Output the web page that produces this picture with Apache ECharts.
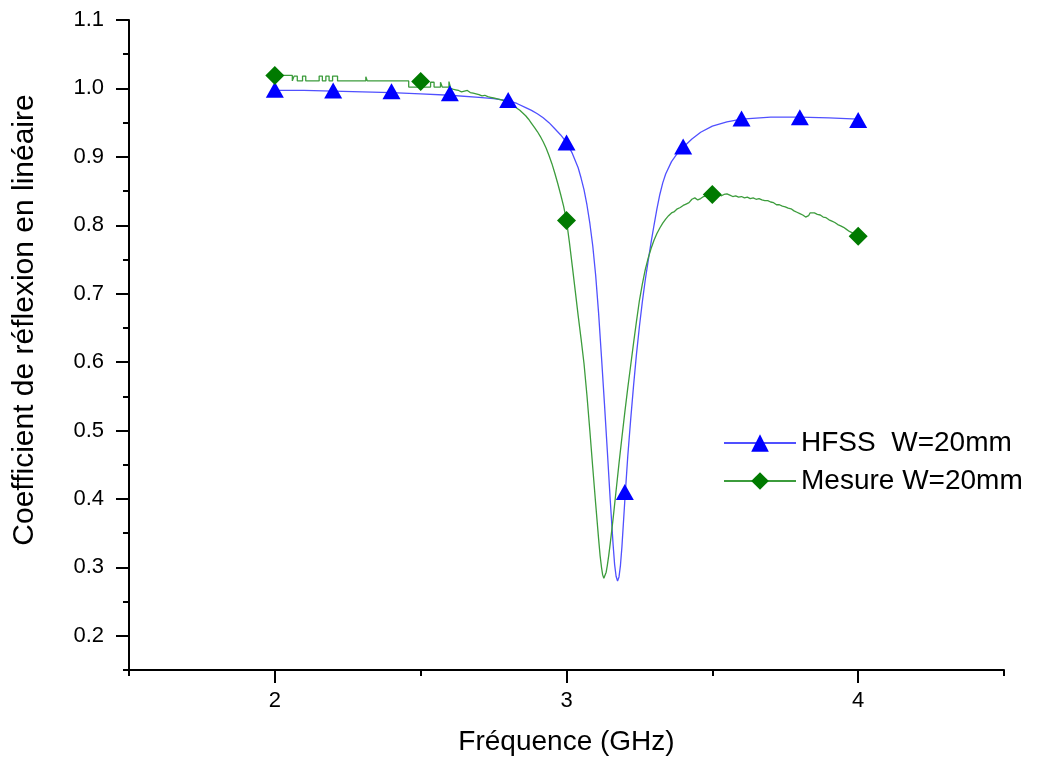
<!DOCTYPE html>
<html>
<head>
<meta charset="utf-8">
<script src="https://cdn.jsdelivr.net/npm/echarts@6/dist/echarts.min.js"></script>
<style>
html,body{margin:0;padding:0;background:#fff;}
#chart{width:1043px;height:763px;}
</style>
</head>
<body>
<div id="chart"></div>
<script>
// ---- data ----
var xTicks = [1.5, 2, 2.5, 3, 3.5, 4, 4.5];
var xMajorTicks = [2, 3, 4];
var yTicks = [0.15, 0.2, 0.25, 0.3, 0.35, 0.4, 0.45, 0.5, 0.55, 0.6, 0.65, 0.7, 0.75, 0.8, 0.85, 0.9, 0.95, 1.0, 1.05, 1.1];
var yMajorTicks = [0.2, 0.3, 0.4, 0.5, 0.6, 0.7, 0.8, 0.9, 1.0, 1.1];

var seriesNames = ['HFSS  W=20mm', 'Mesure W=20mm'];

var hfssCurve = [
  [2.00,0.997],[2.10,0.997],[2.20,0.996],[2.30,0.995],[2.40,0.994],[2.50,0.992],
  [2.60,0.990],[2.70,0.987],[2.75,0.985],[2.80,0.982],[2.83,0.978],[2.86,0.972],
  [2.88,0.968],[2.90,0.963],[2.92,0.957],[2.94,0.950],[2.96,0.941],[2.98,0.932],
  [3.00,0.921],[3.02,0.905],[3.04,0.884],[3.05,0.869],[3.06,0.852],[3.07,0.830],
  [3.08,0.803],[3.09,0.770],[3.10,0.727],[3.11,0.672],[3.12,0.607],[3.13,0.540],
  [3.14,0.470],[3.15,0.398],[3.16,0.332],[3.165,0.304],[3.170,0.287],[3.175,0.280],
  [3.180,0.286],[3.185,0.303],[3.19,0.330],[3.20,0.398],[3.21,0.462],[3.22,0.516],
  [3.23,0.566],[3.24,0.612],[3.25,0.652],[3.26,0.688],[3.27,0.720],[3.28,0.748],
  [3.29,0.775],[3.30,0.800],[3.31,0.824],[3.32,0.845],[3.33,0.862],[3.34,0.875],
  [3.36,0.893],[3.38,0.905],[3.40,0.914],[3.43,0.926],[3.46,0.936],[3.50,0.945],
  [3.55,0.951],[3.60,0.955],[3.70,0.958],[3.80,0.958],[3.90,0.957],[4.00,0.955]
];
var hfssMarkers = [
  [2.0,0.998],[2.2,0.997],[2.4,0.996],[2.6,0.993],[2.8,0.983],[3.0,0.921],
  [3.2,0.410],[3.4,0.915],[3.6,0.956],[3.8,0.958],[4.0,0.954]
];

var mesureCurve = [
  [2.000,1.019],[2.060,1.019],[2.060,1.011],[2.066,1.011],[2.066,1.018],[2.077,1.018],
  [2.077,1.011],[2.095,1.011],[2.095,1.018],[2.106,1.018],[2.106,1.011],[2.152,1.011],
  [2.152,1.018],[2.163,1.018],[2.163,1.011],[2.175,1.011],[2.175,1.018],[2.186,1.018],
  [2.186,1.011],[2.198,1.011],[2.198,1.018],[2.215,1.018],[2.215,1.011],[2.312,1.011],
  [2.312,1.017],[2.317,1.017],[2.317,1.011],[2.459,1.011],[2.459,1.002],[2.534,1.002],
  [2.534,1.009],[2.546,1.009],[2.546,1.002],[2.568,1.002],[2.568,1.009],[2.574,1.009],
  [2.574,1.002],[2.597,1.002],[2.597,1.010],[2.603,1.010],[2.603,1.000],
  [2.61,0.999],[2.62,0.998],[2.63,0.997],[2.64,0.995],[2.65,0.996],[2.66,0.997],
  [2.67,0.994],[2.68,0.993],[2.69,0.992],[2.70,0.991],[2.71,0.989],[2.72,0.990],
  [2.73,0.988],[2.74,0.987],[2.75,0.986],[2.76,0.985],[2.77,0.984],[2.78,0.983],
  [2.79,0.981],[2.80,0.979],[2.81,0.977],[2.82,0.974],[2.83,0.971],[2.84,0.968],
  [2.85,0.964],[2.86,0.960],[2.87,0.955],[2.88,0.949],[2.89,0.943],[2.90,0.937],
  [2.91,0.930],[2.92,0.922],[2.93,0.913],[2.94,0.902],[2.95,0.890],[2.96,0.876],
  [2.97,0.861],[2.98,0.845],[2.99,0.828],[3.00,0.807],[3.01,0.775],[3.02,0.740],
  [3.03,0.704],[3.04,0.668],[3.05,0.634],[3.06,0.598],[3.07,0.552],[3.08,0.500],
  [3.09,0.446],[3.10,0.393],[3.11,0.342],[3.115,0.318],[3.12,0.300],[3.124,0.289],
  [3.128,0.284],[3.132,0.286],[3.136,0.293],[3.14,0.303],[3.145,0.318],[3.15,0.335],
  [3.16,0.372],[3.17,0.412],[3.18,0.452],[3.19,0.490],[3.20,0.527],[3.21,0.562],
  [3.22,0.595],[3.23,0.628],[3.24,0.660],[3.25,0.690],[3.26,0.714],[3.27,0.735],
  [3.28,0.752],[3.29,0.766],[3.30,0.778],[3.31,0.788],[3.32,0.796],[3.33,0.803],
  [3.34,0.809],[3.35,0.814],[3.36,0.818],[3.37,0.820],[3.38,0.824],[3.39,0.826],
  [3.40,0.829],[3.41,0.831],[3.42,0.833],[3.43,0.838],[3.44,0.840],[3.45,0.837],
  [3.46,0.839],[3.47,0.842],[3.48,0.843],[3.49,0.844],[3.50,0.845],[3.51,0.847],
  [3.52,0.846],[3.53,0.843],[3.54,0.845],[3.55,0.846],[3.56,0.844],[3.57,0.842],
  [3.58,0.843],[3.59,0.841],[3.60,0.842],[3.61,0.840],[3.62,0.841],[3.63,0.839],
  [3.64,0.840],[3.65,0.838],[3.66,0.839],[3.67,0.837],[3.68,0.836],[3.69,0.836],
  [3.70,0.834],[3.71,0.833],[3.72,0.830],[3.73,0.830],[3.74,0.828],[3.75,0.827],
  [3.76,0.825],[3.77,0.824],[3.78,0.821],[3.79,0.819],[3.80,0.817],[3.81,0.815],
  [3.82,0.812],[3.825,0.811],[3.83,0.814],[3.835,0.818],[3.84,0.819],[3.85,0.818],
  [3.86,0.816],[3.87,0.815],[3.88,0.812],[3.89,0.811],[3.90,0.808],[3.91,0.806],
  [3.92,0.804],[3.93,0.801],[3.94,0.799],[3.95,0.797],[3.96,0.794],[3.97,0.791],
  [3.98,0.789],[3.99,0.787],[4.00,0.784]
];
var mesureMarkers = [[2.0,1.019],[2.5,1.010],[3.0,0.807],[3.5,0.845],[4.0,0.784]];

// ---- chart ----
var FONT = 'Liberation Sans, Arial, Helvetica, sans-serif';
function isMajor(list, v) {
  for (var i = 0; i < list.length; i++) { if (Math.abs(list[i] - v) < 1e-9) return true; }
  return false;
}
var chart = echarts.init(document.getElementById('chart'), null, {renderer: 'canvas'});
var axisColor = '#000';
var option = {
  animation: false,
  backgroundColor: '#fff',
  grid: {left: 129, right: 39, top: 20, bottom: 93, containLabel: false},
  legend: {
    data: seriesNames,
    orient: 'vertical',
    left: 718,
    top: 424,
    itemWidth: 72,
    itemHeight: 22,
    itemGap: 10,
    textStyle: {fontFamily: FONT, fontSize: 28, color: '#000'}
  },
  xAxis: [
    {
      type: 'value', min: 1.5, max: 4.5, interval: 0.5,
      position: 'bottom',
      name: 'Fréquence (GHz)', nameLocation: 'middle', nameGap: 58,
      nameTextStyle: {fontFamily: FONT, fontSize: 28, color: '#000'},
      axisLine: {show: true, lineStyle: {color: axisColor, width: 2}},
      axisTick: {show: true, length: 6, lineStyle: {color: axisColor, width: 2}},
      axisLabel: {show: false},
      splitLine: {show: false}
    },
    {
      type: 'category', data: xTicks.map(String), boundaryGap: false,
      position: 'bottom',
      axisLine: {show: false},
      axisTick: {show: true, length: 13, lineStyle: {color: axisColor, width: 2},
        interval: function (i) { return isMajor(xMajorTicks, xTicks[i]); }},
      axisLabel: {show: true, fontFamily: FONT, fontSize: 22, color: '#000', margin: 20,
        interval: function (i) { return isMajor(xMajorTicks, xTicks[i]); }},
      splitLine: {show: false}
    }
  ],
  yAxis: [
    {
      type: 'value', min: 0.15, max: 1.1, interval: 0.05,
      position: 'left',
      name: 'Coefficient de réflexion en linéaire', nameLocation: 'middle', nameGap: 89,
      nameTextStyle: {fontFamily: FONT, fontSize: 30, color: '#000', padding: [0, 0, 0, 50]},
      axisLine: {show: true, lineStyle: {color: axisColor, width: 2}},
      axisTick: {show: true, length: 6, lineStyle: {color: axisColor, width: 2}},
      axisLabel: {show: false},
      splitLine: {show: false}
    },
    {
      type: 'category', data: yTicks.map(function (v) { return v.toFixed(2); }), boundaryGap: false,
      position: 'left',
      axisLine: {show: false},
      axisTick: {show: true, length: 13, lineStyle: {color: axisColor, width: 2},
        interval: function (i) { return isMajor(yMajorTicks, yTicks[i]); }},
      axisLabel: {show: true, fontFamily: FONT, fontSize: 22, color: '#000', margin: 25,
        interval: function (i) { return isMajor(yMajorTicks, yTicks[i]); },
        formatter: function (v) { return parseFloat(v).toFixed(1); }},
      splitLine: {show: false}
    }
  ],
  series: [
    {
      name: seriesNames[0], type: 'line', data: hfssCurve,
      xAxisIndex: 0, yAxisIndex: 0,
      showSymbol: false, symbol: 'triangle', symbolSize: 18,
      lineStyle: {color: '#5050ff', width: 1.3},
      itemStyle: {color: '#0000ff'},
      z: 2
    },
    {
      name: seriesNames[1], type: 'line', data: mesureCurve,
      xAxisIndex: 0, yAxisIndex: 0,
      showSymbol: false, symbol: 'diamond', symbolSize: 18,
      lineStyle: {color: '#3c9c3c', width: 1.3},
      itemStyle: {color: '#007a00'},
      z: 3
    },
    {
      name: seriesNames[0], type: 'scatter', data: hfssMarkers,
      xAxisIndex: 0, yAxisIndex: 0,
      symbol: 'triangle', symbolSize: [18, 16],
      itemStyle: {color: '#0000ff', opacity: 1},
      z: 4
    },
    {
      name: seriesNames[1], type: 'scatter', data: mesureMarkers,
      xAxisIndex: 0, yAxisIndex: 0,
      symbol: 'diamond', symbolSize: [19, 19],
      itemStyle: {color: '#007a00', opacity: 1},
      z: 4
    }
  ]
};
chart.setOption(option);
</script>
</body>
</html>
